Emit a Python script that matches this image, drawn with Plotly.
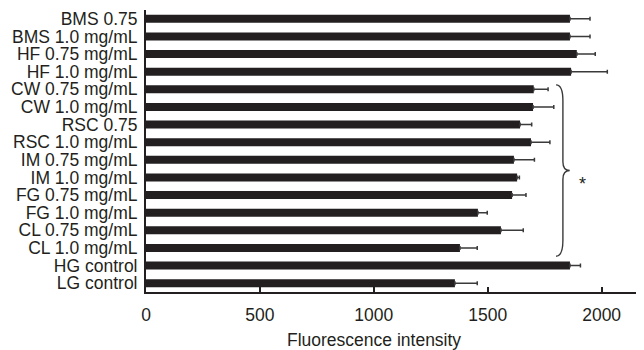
import plotly.graph_objects as go

categories = ["BMS 0.75", "BMS 1.0 mg/mL", "HF 0.75 mg/mL", "HF 1.0 mg/mL",
              "CW 0.75 mg/mL", "CW 1.0 mg/mL", "RSC 0.75", "RSC 1.0 mg/mL",
              "IM 0.75 mg/mL", "IM 1.0 mg/mL", "FG 0.75 mg/mL", "FG 1.0 mg/mL",
              "CL 0.75 mg/mL", "CL 1.0 mg/mL", "HG control", "LG control"]
values = [1861, 1861, 1891, 1866, 1702, 1699, 1642, 1690,
          1615, 1629, 1607, 1457, 1558, 1378, 1861, 1356]
errors = [88, 88, 81, 159, 63, 91, 51, 83,
          90, 10, 61, 41, 98, 76, 46, 98]
x_ticks = [0, 500, 1000, 1500, 2000]
x_title = "Fluorescence intensity"
brace_group = ["CW 0.75 mg/mL", "CL 1.0 mg/mL"]
sig_mark = "*"

FONT = "Liberation Sans, Arial, sans-serif"
INK = "#231f20"
FS = 17.5

pos = list(range(len(categories)))

fig = go.Figure(go.Bar(
    x=values, y=pos, orientation="h",
    marker=dict(color=INK, line=dict(width=0)),
    width=0.46,
    error_x=dict(type="data", array=errors, arrayminus=[0] * len(errors),
                 symmetric=False, color="#3a3a3a", thickness=1.5, width=2),
))

# curly brace spanning the bracketed group
i0 = categories.index(brace_group[0])
i1 = categories.index(brace_group[1])
ext = max(v + e for v, e in zip(values[i0:i1 + 1], errors[i0:i1 + 1]))
bx = ext + 10         # brace tips
bw = 30               # brace depth (data units)
top = i0 - 0.25
bot = i1 + 0.47
mid = (top + bot) / 2
path = (f"M {bx},{top} Q {bx + bw},{top} {bx + bw},{top + 0.9} "
        f"L {bx + bw},{mid - 0.5} Q {bx + bw},{mid} {bx + 2 * bw},{mid} "
        f"Q {bx + bw},{mid} {bx + bw},{mid + 0.5} "
        f"L {bx + bw},{bot - 0.9} Q {bx + bw},{bot} {bx},{bot}")
fig.add_shape(type="path", path=path, xref="x", yref="y",
              line=dict(color="#3a3a3a", width=1.4))
fig.add_annotation(x=bx + 115, y=mid + 0.75, xref="x", yref="y",
                   text=sig_mark, showarrow=False,
                   font=dict(family=FONT, size=18, color=INK))

fig.add_annotation(x=1000, y=-0.17, xref="x", yref="paper",
                   text=x_title, showarrow=False, yanchor="middle",
                   font=dict(family=FONT, size=FS, color=INK))

# page body has an 8px margin: figure is offset by (8, 8) in the window
fig.update_layout(
    width=636, height=342,
    margin=dict(l=138, r=0, t=2, b=58),
    paper_bgcolor="white", plot_bgcolor="white",
    showlegend=False,
    font=dict(family=FONT, size=FS, color=INK),
)
fig.update_xaxes(range=[0, 2186], tickvals=x_ticks, ticks="inside",
                 ticklen=5, tickwidth=2, tickcolor=INK,
                 showline=True, linecolor=INK, linewidth=2,
                 showgrid=False, zeroline=False, automargin=False,
                 ticklabelstandoff=6,
                 tickfont=dict(family=FONT, size=FS, color=INK))
fig.update_yaxes(range=[len(categories) - 0.5, -0.5], tickvals=pos,
                 ticktext=categories, ticks="", showline=True,
                 linecolor=INK, linewidth=2, showgrid=False, zeroline=False,
                 ticklabelstandoff=3, automargin=False,
                 tickfont=dict(family=FONT, size=FS, color=INK))

fig.write_html("out.html")
